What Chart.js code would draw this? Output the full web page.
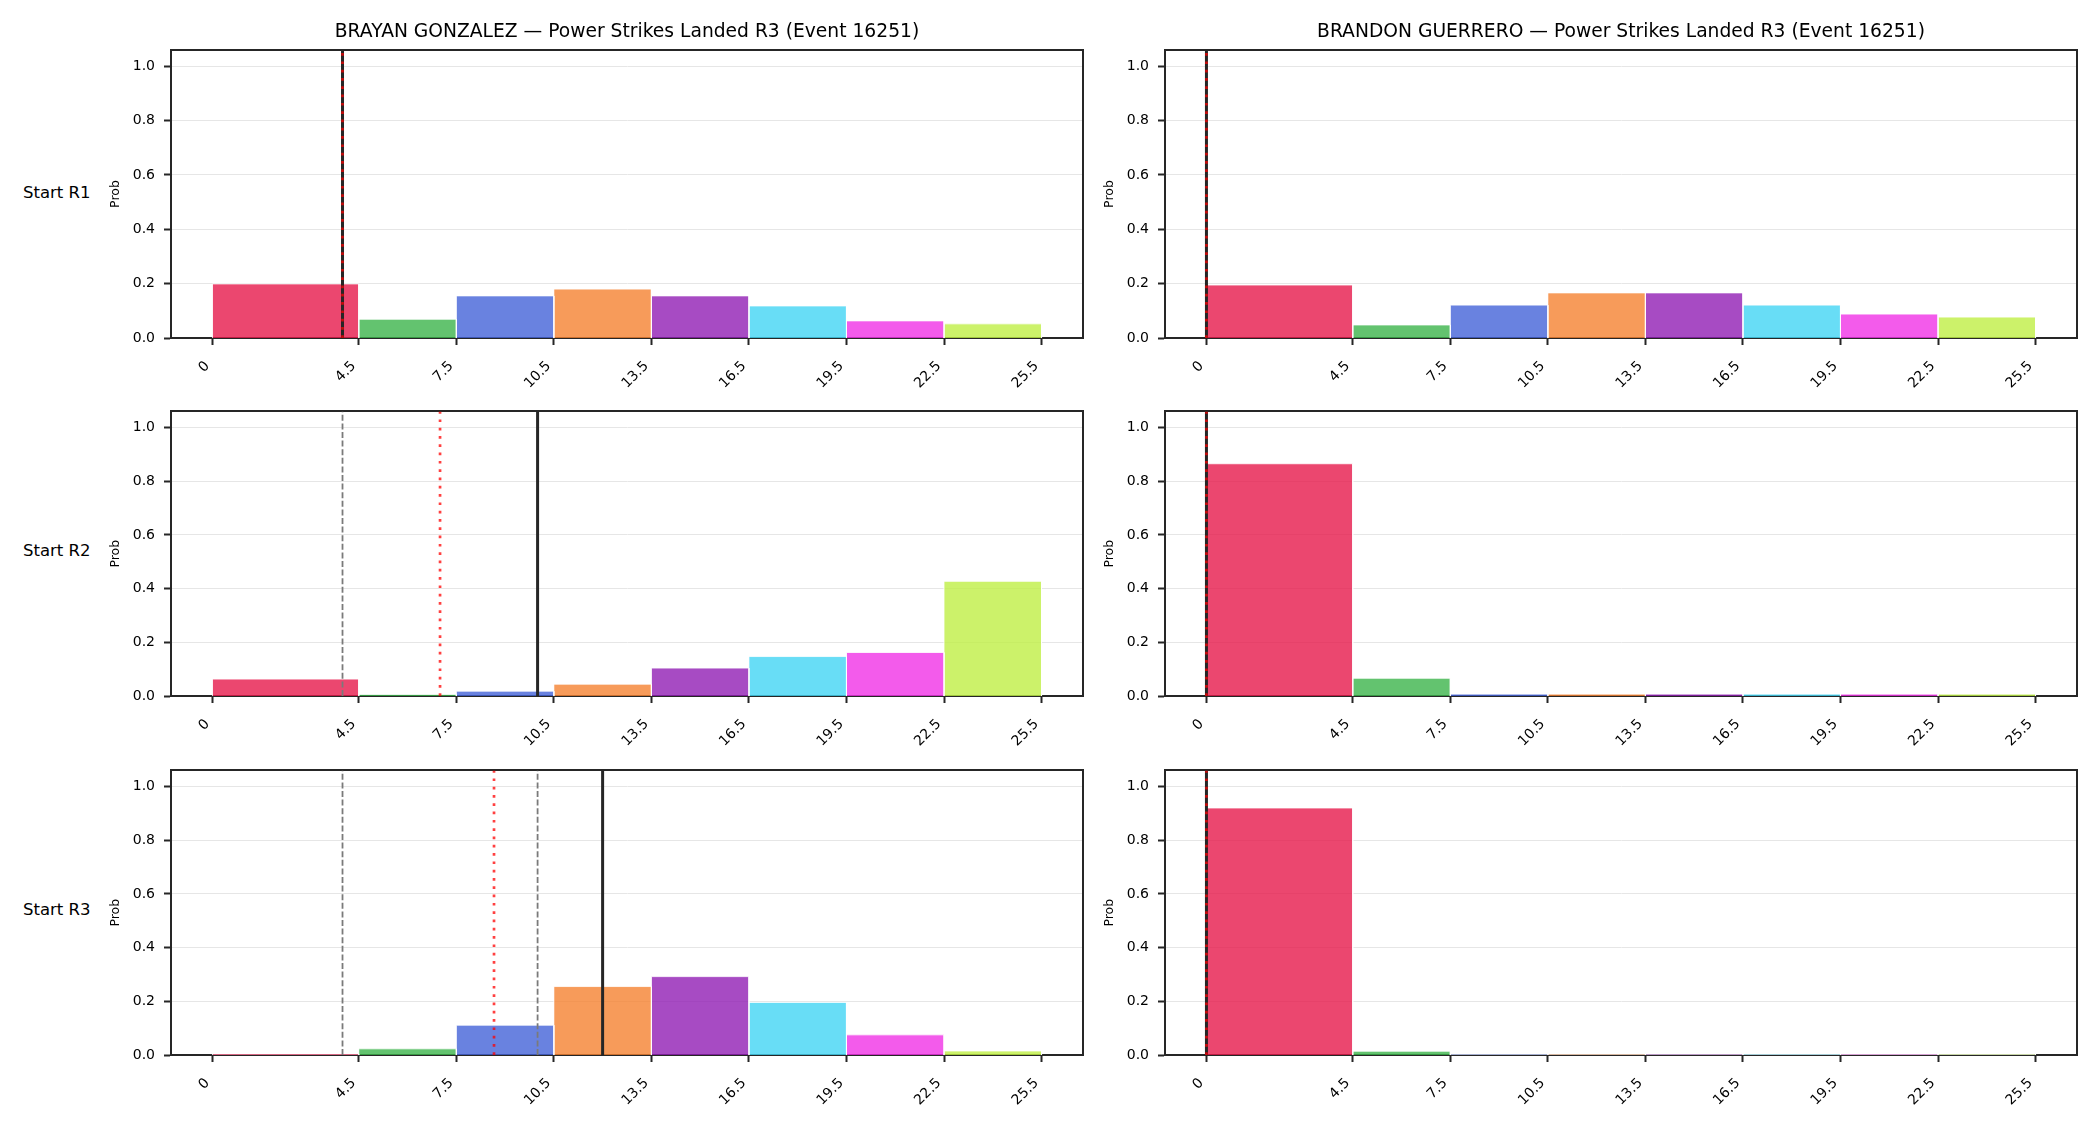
<!DOCTYPE html>
<html>
<head>
<meta charset="utf-8">
<script src="https://cdn.jsdelivr.net/npm/chart.js@4.4.1/dist/chart.umd.min.js"></script>
<style>
  html, body { margin: 0; padding: 0; background: #fff; }
  body { width: 2100px; height: 1125px; position: relative; overflow: hidden; font-family: "DejaVu Sans", sans-serif; }
  canvas { position: absolute; }
  .rowlabel { position: absolute; left: 23px; font-size: 16.5px; line-height: 1; color: #000; white-space: nowrap; }
</style>
</head>
<body>
<script>
// histogram bins (strikes landed), shared by every panel
const binEdges = [0, 4.5, 7.5, 10.5, 13.5, 16.5, 19.5, 22.5, 25.5];
const xTicks = [0, 4.5, 7.5, 10.5, 13.5, 16.5, 19.5, 22.5, 25.5];
const yTicks = [0, 0.2, 0.4, 0.6, 0.8, 1.0];
const binColors = ['#e6194b', '#3cb44b', '#4363d8', '#f58231', '#911eb4', '#42d4f4', '#f032e6', '#bfef45'];

const fighters = ['BRAYAN GONZALEZ', 'BRANDON GUERRERO'];
const rowLabels = ['Start R1', 'Start R2', 'Start R3'];

// probabilities per bin, one array per starting round
const brayanR1 = [0.199, 0.069, 0.155, 0.180, 0.155, 0.118, 0.063, 0.052];
const brayanR2 = [0.063, 0.006, 0.018, 0.044, 0.104, 0.147, 0.162, 0.427];
const brayanR3 = [0.004, 0.023, 0.111, 0.255, 0.292, 0.196, 0.075, 0.015];
const brandonR1 = [0.195, 0.048, 0.121, 0.166, 0.166, 0.121, 0.088, 0.077];
const brandonR2 = [0.865, 0.066, 0.007, 0.007, 0.007, 0.007, 0.007, 0.007];
const brandonR3 = [0.920, 0.014, 0.003, 0.003, 0.003, 0.003, 0.003, 0.003];

// reference lines per row
const brayanSolid = [4, 10, 12];
const brayanDotted = [4, 7, 8.66];
const brayanDashed = [[], [4], [4, 10]];
const brandonSolid = [0, 0, 0];
const brandonDotted = [0, 0, 0];
const brandonDashed = [[], [], []];

const yMax = 1.06;
const xMin = -1.275, xMax = 26.775;

const rowTops = [50, 408, 767];
const plotH = 288;
const colLeft = [171, 1165];
const yAxisW = 63;
const canvasW = 985;
const xAxisH = 60;
const ink = '#262626';
const font = '"DejaVu Sans", sans-serif';

function rgba(hex, a) {
    const n = parseInt(hex.slice(1), 16);
    return 'rgba(' + (n >> 16) + ',' + ((n >> 8) & 255) + ',' + (n & 255) + ',' + a + ')';
}

function vline(x, kind) {
    const styles = {
        solid: {borderColor: ink, borderWidth: 3, borderDash: [], order: 2},
        dotted: {borderColor: 'rgba(255,0,0,0.75)', borderWidth: 2.7, borderDash: [2.7, 5.6], order: 1},
        dashed: {borderColor: '#7a7a7a', borderWidth: 1.8, borderDash: [6, 2.6], order: 3},
    };
    return Object.assign({
        type: 'line',
        data: [{x: x, y: 0}, {x: x, y: yMax}],
        pointRadius: 0,
        fill: false,
        borderCapStyle: 'butt',
    }, styles[kind]);
}

function makeChart(col, row, probs, solid, dotted, dashed) {
    const padTop = row === 0 ? 0 : 14;
    const topSpace = row === 0 ? 50 : padTop;
    const cv = document.createElement('canvas');
    cv.width = canvasW;
    cv.height = topSpace + plotH + xAxisH;
    cv.style.left = (colLeft[col] - yAxisW) + 'px';
    cv.style.top = (rowTops[row] - topSpace) + 'px';
    document.body.appendChild(cv);

    const datasets = [];
    probs.forEach((p, i) => {
        datasets.push({
            type: 'line',
            data: [
                {x: binEdges[i], y: 0}, {x: binEdges[i], y: p},
                {x: binEdges[i + 1], y: p}, {x: binEdges[i + 1], y: 0}
            ],
            backgroundColor: rgba(binColors[i], 0.8),
            borderColor: 'rgba(255,255,255,0.8)',
            borderWidth: 1,
            borderJoinStyle: 'miter',
            fill: 'origin',
            pointRadius: 0,
            tension: 0,
            order: 10,
        });
    });
    dashed.forEach(v => datasets.push(vline(v, 'dashed')));
    datasets.push(vline(solid, 'solid'));
    datasets.push(vline(dotted, 'dotted'));

    new Chart(cv.getContext('2d'), {
        type: 'line',
        data: {datasets: datasets},
        options: {
            responsive: false,
            animation: false,
            events: [],
            layout: {padding: {top: padTop, right: 10, left: 0, bottom: 0}},
            plugins: {
                legend: {display: false},
                tooltip: {enabled: false},
                title: {
                    display: row === 0,
                    fullSize: false,
                    text: fighters[col] + ' \u2014 Power Strikes Landed R3 (Event 16251)',
                    color: '#000',
                    font: {family: font, size: 18.7, weight: 'normal', lineHeight: 1.2},
                    padding: {top: 20.8, bottom: 6.76},
                },
            },
            scales: {
                x: {
                    type: 'linear',
                    min: xMin, max: xMax,
                    afterBuildTicks: s => { s.ticks = xTicks.map(v => ({value: v})); },
                    afterFit: s => { s.height = xAxisH; },
                    ticks: {
                        autoSkip: false, minRotation: 45, maxRotation: 45,
                        padding: 13, labelOffset: -5, color: '#000',
                        font: {family: font, size: 14},
                        callback: v => String(v),
                    },
                    grid: {display: true, drawOnChartArea: false, drawTicks: true, tickLength: 7, tickColor: ink, tickWidth: 2},
                    border: {display: true, color: ink, width: 2},
                },
                y: {
                    type: 'linear',
                    min: 0, max: yMax,
                    afterBuildTicks: s => { s.ticks = yTicks.map(v => ({value: v})); },
                    afterFit: s => { s.width = yAxisW; },
                    ticks: {
                        padding: 9, color: '#000',
                        font: {family: font, size: 14},
                        callback: v => v.toFixed(1),
                    },
                    title: {display: true, text: 'Prob', color: '#000', padding: 0, font: {family: font, size: 12.5, lineHeight: 1.2}},
                    grid: {color: '#e6e6e6', lineWidth: 1, tickLength: 7, tickColor: ink, tickWidth: 2},
                    border: {display: true, color: ink, width: 2},
                },
                x2: {
                    type: 'linear', position: 'top', min: xMin, max: xMax,
                    ticks: {display: false}, grid: {display: false},
                    border: {display: true, color: ink, width: 2},
                    afterFit: s => { s.height = 0; },
                },
                y2: {
                    type: 'linear', position: 'right', min: 0, max: yMax,
                    ticks: {display: false}, grid: {display: false},
                    border: {display: true, color: ink, width: 2},
                    afterFit: s => { s.width = 0; },
                },
            },
        },
    });
}

const panels = [
    [brayanR1, brayanR2, brayanR3],
    [brandonR1, brandonR2, brandonR3],
];
const solids = [brayanSolid, brandonSolid];
const dotteds = [brayanDotted, brandonDotted];
const dasheds = [brayanDashed, brandonDashed];

for (let c = 0; c < 2; c++) {
    for (let r = 0; r < 3; r++) {
        makeChart(c, r, panels[c][r], solids[c][r], dotteds[c][r], dasheds[c][r]);
    }
}

rowLabels.forEach((t, r) => {
    const d = document.createElement('div');
    d.className = 'rowlabel';
    d.textContent = t;
    d.style.top = (rowTops[r] + plotH / 2 - 1.5 - 8) + 'px';
    document.body.appendChild(d);
});
</script>
</body>
</html>
